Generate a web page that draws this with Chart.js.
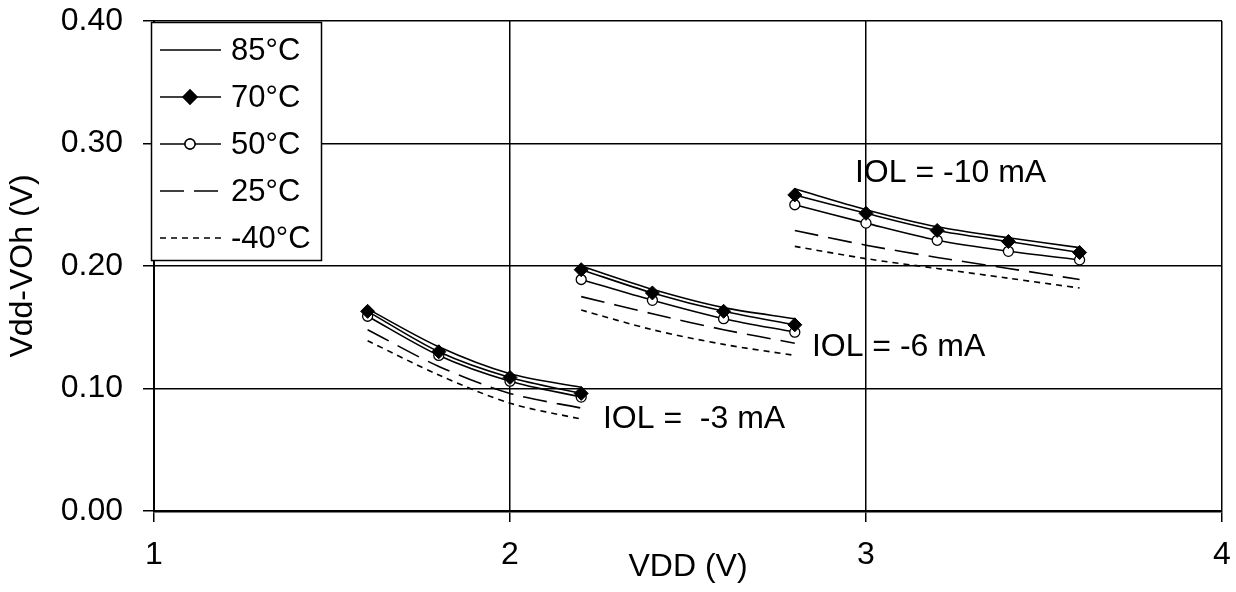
<!DOCTYPE html>
<html lang="en">
<head>
<meta charset="UTF-8" />
<title>Vdd-VOh vs VDD</title>
<script src="https://cdn.jsdelivr.net/npm/chart.js"></script>
<style>
  body {
    margin: 0;
    background: #fff;
  }
  #wrap {
    width: 1236px;
    height: 592px;
  }
</style>
</head>
<body>

<div id="wrap">
  <canvas id="vohChart" width="1236" height="592"></canvas>
</div>

<script>
  // supply voltage, three load groups (-3, -6, -10 mA) split by nulls
  const vdd  = [1.6, 1.8, 2.0, 2.2, null, 2.2, 2.4, 2.6, 2.8, null, 2.8, 3.0, 3.2, 3.4, 3.6];

  const t85  = [0.165, 0.134, 0.112, 0.101, null, 0.200, 0.181, 0.166, 0.157, null, 0.263, 0.246, 0.232, 0.223, 0.215];
  const t70  = [0.163, 0.130, 0.109, 0.096, null, 0.197, 0.178, 0.163, 0.152, null, 0.258, 0.243, 0.229, 0.220, 0.211];
  const t50  = [0.159, 0.127, 0.106, 0.093, null, 0.189, 0.172, 0.157, 0.146, null, 0.250, 0.235, 0.221, 0.212, 0.205];
  const t25  = [0.148, 0.118, 0.096, 0.084, null, 0.175, 0.161, 0.148, 0.137, null, 0.229, 0.217, 0.207, 0.198, 0.189];
  const tm40 = [0.139, 0.111, 0.088, 0.075, null, 0.164, 0.148, 0.136, 0.127, null, 0.216, 0.206, 0.198, 0.190, 0.182];

  const seriesLabels = ['85\u00B0C', '70\u00B0C', '50\u00B0C', '25\u00B0C', '-40\u00B0C'];
  const yTicks = [0, 0.1, 0.2, 0.3, 0.4];

  const loadLabels = ['IOL =  -3 mA', 'IOL = -6 mA', 'IOL = -10 mA'];
  const loadLabelX = [2.261, 2.848, 2.969];
  const loadLabelY = [0.075, 0.134, 0.276];

  const FONT = "'Liberation Sans', Arial, sans-serif";

  function points(values) {
    return vdd.map((x, i) => ({ x: x === null ? NaN : x, y: values[i] }));
  }

  const base = {
    borderColor: '#000',
    borderWidth: 1.6,
    pointRadius: 0,
    pointHoverRadius: 0,
    tension: 0.3,
    spanGaps: false
  };

  const datasets = [
    Object.assign({}, base, { label: seriesLabels[0], data: points(t85) }),
    Object.assign({}, base, { label: seriesLabels[1], data: points(t70),
      pointStyle: 'rectRot', pointRadius: 7, pointBackgroundColor: '#000', pointBorderColor: '#000', pointBorderWidth: 1 }),
    Object.assign({}, base, { label: seriesLabels[2], data: points(t50),
      pointStyle: 'circle', pointRadius: 5, pointBackgroundColor: '#fff', pointBorderColor: '#000', pointBorderWidth: 1.3 }),
    Object.assign({}, base, { label: seriesLabels[3], data: points(t25), borderDash: [24, 10] }),
    Object.assign({}, base, { label: seriesLabels[4], data: points(tm40), borderDash: [6, 5] })
  ];

  // legend box drawn inside the plot, top-left
  const boxLegend = {
    id: 'boxLegend',
    afterDraw(chart) {
      const ctx = chart.ctx;
      const left = 151.5, top = 22.5, w = 170, h = 238;
      ctx.save();
      ctx.fillStyle = '#fff';
      ctx.fillRect(left, top, w, h);
      ctx.strokeStyle = '#000';
      ctx.lineWidth = 1.5;
      ctx.strokeRect(left, top, w, h);
      ctx.font = '31px ' + FONT;
      ctx.textBaseline = 'middle';
      ctx.textAlign = 'left';
      chart.data.datasets.forEach((ds, i) => {
        const y = 50 + i * 47;
        ctx.strokeStyle = '#000';
        ctx.lineWidth = ds.borderWidth;
        ctx.setLineDash(ds.borderDash || []);
        ctx.beginPath();
        ctx.moveTo(160, y);
        ctx.lineTo(221, y);
        ctx.stroke();
        ctx.setLineDash([]);
        if (ds.pointRadius > 0) {
          Chart.helpers.drawPoint(ctx, {
            pointStyle: ds.pointStyle,
            radius: ds.pointRadius,
            borderWidth: ds.pointBorderWidth,
            rotation: 0
          }, 190, y);
          ctx.fillStyle = ds.pointBackgroundColor;
          ctx.fill();
          ctx.strokeStyle = ds.pointBorderColor;
          ctx.lineWidth = ds.pointBorderWidth;
          ctx.stroke();
        }
        ctx.fillStyle = '#000';
        ctx.fillText(ds.label, 231, y + 1);
      });
      ctx.restore();
    }
  };

  // IOL annotations placed in data coordinates
  const loadText = {
    id: 'loadText',
    beforeDatasetsDraw(chart) {
      const ctx = chart.ctx;
      const xs = chart.scales.x, ys = chart.scales.y;
      ctx.save();
      ctx.font = '32px ' + FONT;
      ctx.fillStyle = '#000';
      ctx.textBaseline = 'middle';
      ctx.textAlign = 'left';
      loadLabels.forEach((t, i) => {
        ctx.fillText(t, xs.getPixelForValue(loadLabelX[i]), ys.getPixelForValue(loadLabelY[i]));
      });
      ctx.restore();
    }
  };

  new Chart(document.getElementById('vohChart').getContext('2d'), {
    type: 'line',
    data: { datasets: datasets },
    options: {
      responsive: false,
      animation: false,
      events: [],
      layout: { padding: { top: 21, right: 14, left: 0, bottom: 0 } },
      plugins: {
        legend: { display: false },
        tooltip: { enabled: false }
      },
      scales: {
        x: {
          type: 'linear',
          min: 1,
          max: 4,
          ticks: { stepSize: 1, color: '#000', font: { family: FONT, size: 32 }, padding: 14 },
          grid: { color: '#000', lineWidth: 1.5, tickLength: 11 },
          border: { color: '#000', width: 2.5 },
          title: { display: true, text: 'VDD (V)', color: '#000', font: { family: FONT, size: 32 }, padding: { top: 0, bottom: 6 } },
          afterFit(scale) {
            scale.height = 81;
            scale.paddingLeft = 0;
            scale.paddingRight = 0;
          }
        },
        y: {
          min: 0,
          max: 0.4,
          afterBuildTicks(scale) { scale.ticks = yTicks.map(v => ({ value: v })); },
          ticks: {
            color: '#000',
            font: { family: FONT, size: 32 },
            padding: 20,
            callback: v => v.toFixed(2)
          },
          grid: { color: '#000', lineWidth: 1.5, tickLength: 11 },
          border: { color: '#000', width: 2 },
          title: { display: true, text: 'Vdd-VOh (V)', color: '#000', font: { family: FONT, size: 32 }, padding: { top: 4, bottom: 0 } },
          afterFit(scale) {
            scale.width = 154;
            scale.paddingTop = 0;
            scale.paddingBottom = 0;
          }
        }
      }
    },
    plugins: [loadText, boxLegend]
  });
</script>

</body>
</html>
